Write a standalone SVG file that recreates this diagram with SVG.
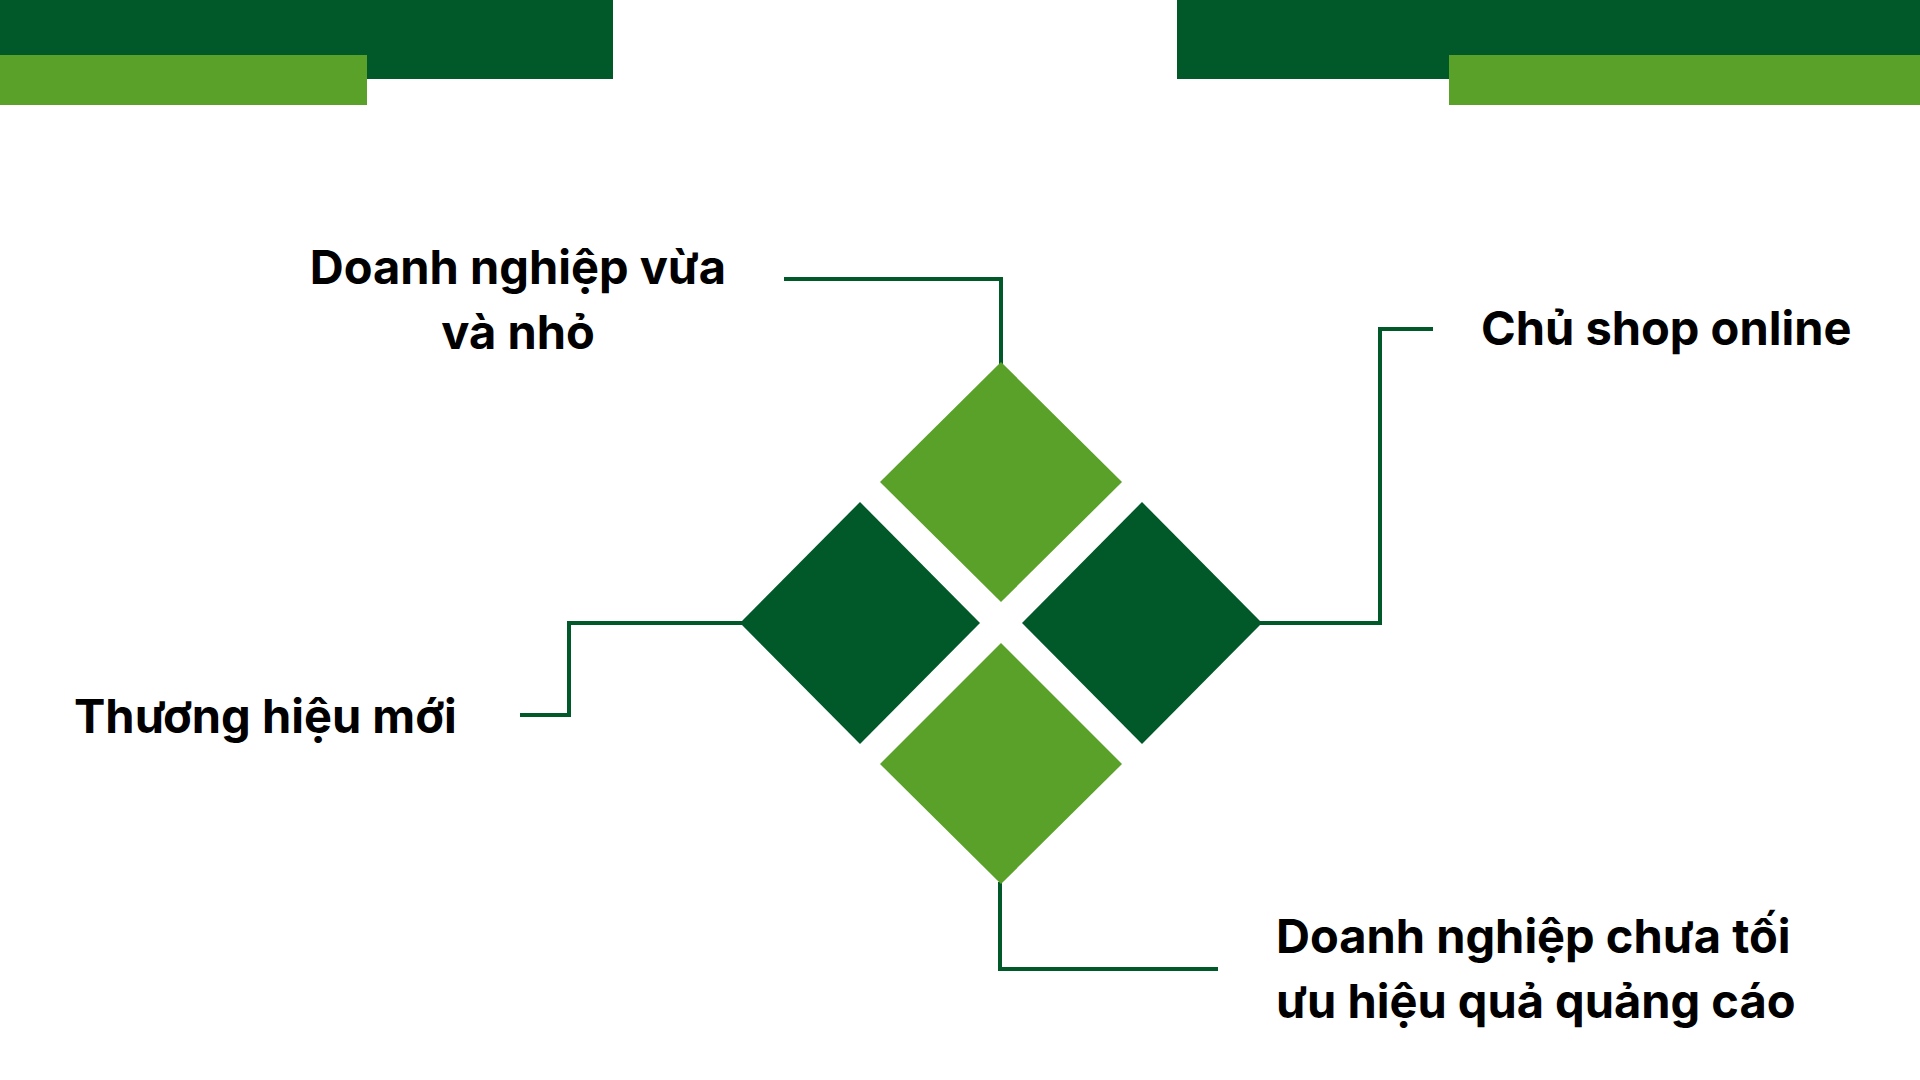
<svg xmlns="http://www.w3.org/2000/svg" width="1920" height="1080" viewBox="0 0 1920 1080">
<style>
.dark{fill:#01592a}
.light{fill:#59a129}
.conn{fill:none;stroke:#01592a;stroke-width:4;stroke-linejoin:miter}
.lbl{font-family:Inter,"Noto Sans","Liberation Sans",sans-serif;font-weight:700;font-size:47px;fill:#000}
</style>
<rect width="1920" height="1080" fill="#fff"/>
<g id="bars">
<rect class="dark" x="0" y="0" width="613" height="79"/>
<rect class="light" x="0" y="55" width="367" height="50"/>
<rect class="dark" x="1177" y="0" width="743" height="79"/>
<rect class="light" x="1449" y="55" width="471" height="50"/>
</g>
<g id="connectors">
<polyline class="conn" points="1001,364 1001,279 784,279"/>
<polyline class="conn" points="1260,623 1380,623 1380,329 1433,329"/>
<polyline class="conn" points="742,623 569,623 569,715 520,715"/>
<polyline class="conn" points="1000,882 1000,969 1218,969"/>
</g>
<g id="node-top">
<polygon class="light" points="1001,362 1122,482 1001,602 880,482"/>
<text class="lbl" text-anchor="middle"><tspan x="518" y="284">Doanh nghiệp vừa</tspan><tspan x="518" y="349">và nhỏ</tspan></text>
</g>
<g id="node-right">
<polygon class="dark" points="1142,502 1262,623 1142,744 1022,623"/>
<text class="lbl" x="1481" y="345">Chủ shop online</text>
</g>
<g id="node-left">
<polygon class="dark" points="860,502 980,623 860,744 740,623"/>
<text class="lbl" x="74" y="733">Thương hiệu mới</text>
</g>
<g id="node-bottom">
<polygon class="light" points="1001,643 1122,764 1001,884 880,764"/>
<text class="lbl"><tspan x="1276" y="953">Doanh nghiệp chưa tối</tspan><tspan x="1276" y="1018">ưu hiệu quả quảng cáo</tspan></text>
</g>
</svg>
